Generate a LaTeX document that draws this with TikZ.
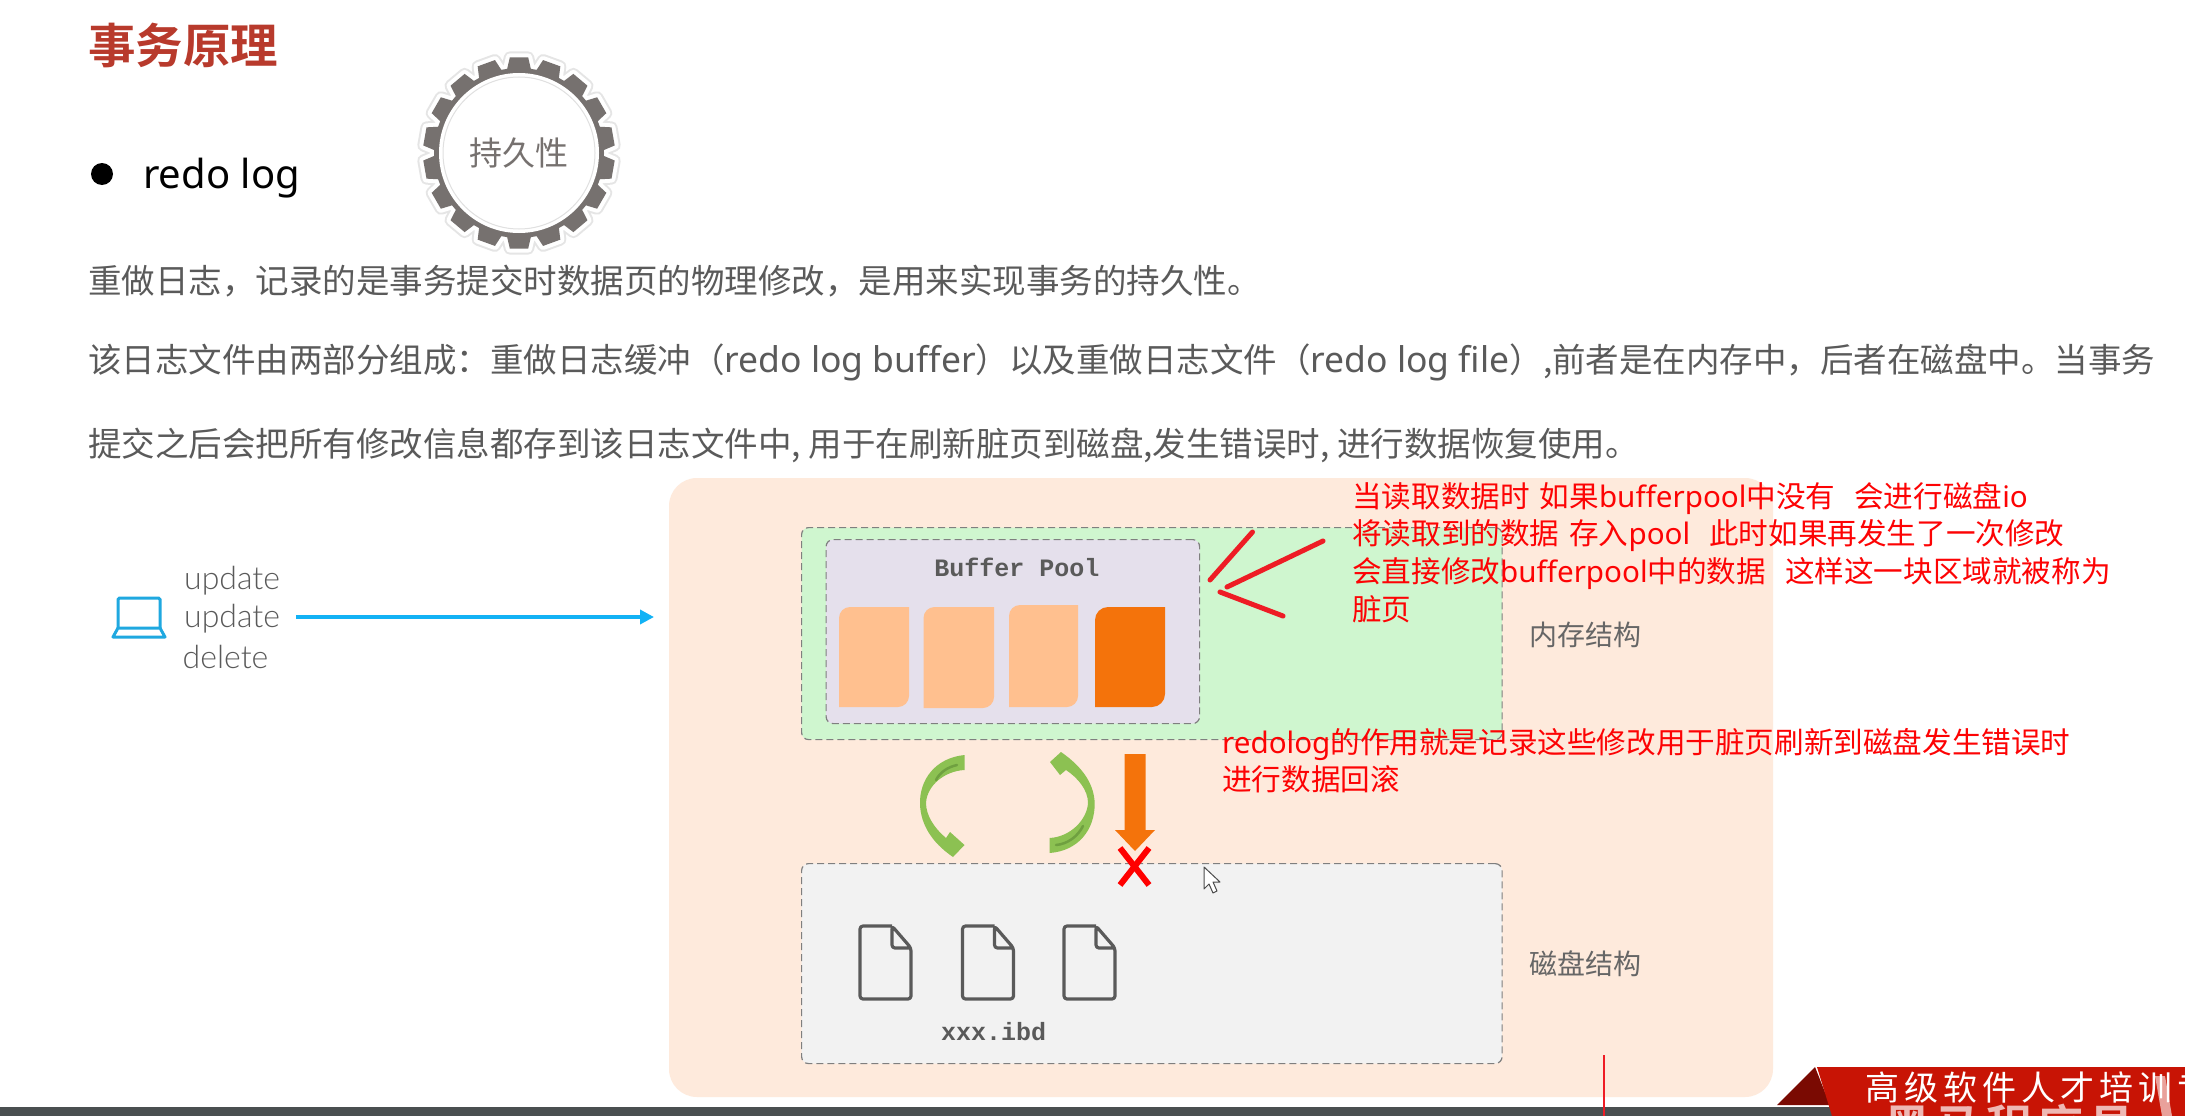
\documentclass[tikz,border=0pt]{standalone}
\usepackage{fontspec}
\usetikzlibrary{arrows.meta}
\setmainfont{Noto Sans CJK SC}
\newfontfamily\cjkbold{Noto Sans CJK SC Bold}
\newfontfamily\monob{Liberation Mono Bold}
\newfontfamily\latin{Lato Light}
\newfontfamily\redolat{Noto Sans}
\newcommand{\lat}[1]{{\redolat #1}}
\newcommand{\latwide}[1]{{\redolat\fontsize{35.5}{35.5}\selectfont #1}}
\definecolor{titlered}{HTML}{B83A2C}
\definecolor{bodygray}{HTML}{5A5A5A}
\definecolor{peach}{HTML}{FEEADC}
\definecolor{memgreen}{HTML}{CFF6CF}
\definecolor{poolpurple}{HTML}{E5E0EC}
\definecolor{pagepeach}{HTML}{FFC08F}
\definecolor{pageorange}{HTML}{F4730B}
\definecolor{diskgray}{HTML}{F2F2F2}
\definecolor{dashgray}{HTML}{7F7F7F}
\definecolor{inkred}{HTML}{EE1C25}
\definecolor{arrowgreen}{HTML}{8CC152}
\definecolor{arrowdark}{HTML}{6FA040}
\definecolor{gearg}{HTML}{76716F}
\definecolor{skyblue}{HTML}{12B2F5}
\definecolor{laptopblue}{HTML}{1FA8E0}
\definecolor{barc}{HTML}{4A4F50}
\definecolor{banner}{HTML}{C81405}
\definecolor{bannerdark}{HTML}{7A0A02}
\tikzset{
 bodytext/.style={anchor=west,inner sep=0pt,text height=27pt,text depth=7pt,text=bodygray,font=\fontsize{33.5}{33.5}\selectfont},
 redtext/.style={anchor=west,inner sep=0pt,text height=23pt,text depth=6pt,text=red!90!inkred,font=\fontsize{29.6}{29.6}\selectfont},
 sidelabel/.style={anchor=west,inner sep=0pt,text=black!60,font=\fontsize{28}{28}\selectfont},
 opword/.style={anchor=west,inner sep=0pt,text=bodygray,font=\latin\fontsize{32}{32}\selectfont},
 dashbox/.style={draw=dashgray,dashed,dash pattern=on 7pt off 4pt,line width=1.2pt,rounded corners=7pt},
 inkstroke/.style={draw=inkred,line width=5pt,line cap=round},
 filestroke/.style={draw=bodygray,line width=3.2pt,rounded corners=3pt,line join=round},
}
\newcommand{\pageshape}[6]{\fill[#5] (#1,#4) -- (#1,#2+#6) .. controls (#1,#2+0.45*#6) and (#1+0.45*#6,#2) .. (#1+#6,#2) -- (#3,#2) -- (#3,#4-#6) .. controls (#3,#4-0.45*#6) and (#3-0.45*#6,#4) .. (#3-#6,#4) -- cycle;}
\newcommand{\fileicon}[2]{%
 \draw[filestroke] (#1+32,#2) -- (#1,#2) -- (#1,#2+73) -- (#1+51,#2+73) -- (#1+51,#2+22) -- (#1+32,#2) -- (#1+32,#2+22) -- (#1+51,#2+22);}
\begin{document}
\begin{tikzpicture}[x=1pt,y=-1pt]
\useasboundingbox (0,0) rectangle (2185,1116);
\fill[white] (0,0) rectangle (2185,1116);
% heading
\node[anchor=west,inner sep=0pt,text=titlered,font=\cjkbold\fontsize{47.5}{47.5}\selectfont] (title) at (88,45) {事务原理};
\fill[black] (102,174) ellipse (11 and 11);
\node[anchor=west,inner sep=0pt,text=black,font=\redolat\fontsize{40}{40}\selectfont] (redo) at (143,178) {redo log};
% gear
\begin{scope}[shift={(519,153)}]
 \def\gearpath{(0:85)
  \foreach \a in {0,20,...,340}{ -- ({\a+2}:85) -- ({\a+4.5}:96) -- ({\a+15.5}:96) -- ({\a+18}:85)} -- cycle}
 \draw[draw=black!10,line width=12pt,line join=round] \gearpath;
 \draw[draw=white,line width=8pt,line join=round] \gearpath;
 \fill[gearg] \gearpath;
 \fill[white] (0,0) circle (80);
 \draw[black!12,line width=1pt] (0,0) circle (76);
\end{scope}
\node[inner sep=0pt,text=gearg,font=\fontsize{33}{33}\selectfont] (durable) at (519,153) {持久性};
% body text
\node[bodytext] (l1) at (88,283) {重做日志，记录的是事务提交时数据页的物理修改，是用来实现事务的持久性。};
\node[bodytext] (l2) at (88,362) {该日志文件由两部分组成：重做日志缓冲（\latwide{redo log buffer}）以及重做日志文件（\latwide{redo log file}）,前者是在内存中，后者在磁盘中。当事务};
\node[bodytext] (l3) at (88,446) {提交之后会把所有修改信息都存到该日志文件中, 用于在刷新脏页到磁盘,发生错误时, 进行数据恢复使用。};
% panels
\fill[peach,rounded corners=28pt] (669,478) rectangle (1773,1097);
\node[dashbox,fill=memgreen,minimum width=700.5pt,minimum height=212pt,anchor=north west,inner sep=0pt] (mem) at (801,527) {};
\node[dashbox,fill=poolpurple,minimum width=373.5pt,minimum height=184pt,anchor=north west,inner sep=0pt] (pool) at (825.5,539) {};
\node[dashbox,fill=diskgray,minimum width=700.5pt,minimum height=200pt,anchor=north west,inner sep=0pt] (disk) at (801,863) {};
\node[inner sep=0pt,text=bodygray,font=\monob\fontsize{25}{25}\selectfont] (pooltitle) at (1017,567) {Buffer Pool};
\pageshape{839}{607}{909}{707}{pagepeach}{11}
\pageshape{923.5}{607}{994}{708}{pagepeach}{11}
\pageshape{1009}{605}{1078}{707}{pagepeach}{11}
\pageshape{1095}{607}{1165}{707}{pageorange}{13}
\node[sidelabel] (memlabel) at (1529,635) {内存结构};
\node[sidelabel] (disklabel) at (1529,964) {磁盘结构};
% files
\fileicon{860}{926}
\fileicon{962.5}{926}
\fileicon{1064}{926}
\node[inner sep=0pt,text=bodygray,font=\monob\fontsize{25}{25}\selectfont] (ibd) at (993.7,1032) {xxx.ibd};
% green arrows
\fill[arrowgreen] (964.5,755) .. controls (935,758) and (919,780) .. (920,805) .. controls (921,824) and (931,842) .. (953,857) -- (964.5,845) -- (950,832) -- (946,838) .. controls (934,828) and (926,815) .. (926,803) .. controls (927,785) and (945,771) .. (964.5,770) -- cycle;
\draw[arrowdark,line width=2.5pt,line cap=round] (957,765) .. controls (948,767) and (940,772) .. (936,780);
\fill[arrowgreen] (1049.5,853) .. controls (1078,851) and (1095,830) .. (1094.7,803) .. controls (1094,785) and (1084,768) .. (1061,752) -- (1050,762) -- (1060,775) -- (1066,770) .. controls (1078,778) and (1088,790) .. (1088,803) .. controls (1087,820) and (1070,837) .. (1049.5,838) -- cycle;
\draw[arrowdark,line width=2.5pt,line cap=round] (1056,845) .. controls (1068,844) and (1078,836) .. (1083,826);
% orange arrow
\fill[pageorange] (1124.5,754) -- (1145.6,754) -- (1145.6,830) -- (1155,830) -- (1135,851) -- (1115,830) -- (1124.5,830) -- cycle;
% red cross
\draw[red,line width=6pt] (1120,848) -- (1149,885);
\draw[red,line width=6pt] (1149,848) -- (1120,885);
% cursor
\draw[black!70,fill=white,line width=1pt,line join=round] (1204,867) -- (1204,889) -- (1209,884) -- (1213,893) -- (1217,891) -- (1213,882) -- (1220,882) -- cycle;
% ink strokes
\draw[inkstroke] (1252.5,532) -- (1210,580);
\draw[inkstroke] (1323,541) -- (1227,587);
\draw[inkstroke] (1220,592) -- (1283,616);
\node[redtext] (n1) at (1352,499) {当读取数据时\hspace{10pt}如果\lat{bufferpool}中没有\hspace{19pt}会进行磁盘\lat{io}};
\node[redtext] (n2) at (1352,536) {将读取到的数据\hspace{10pt}存入\lat{pool}\hspace{19pt}此时如果再发生了一次修改};
\node[redtext] (n3) at (1352,574) {会直接修改\lat{bufferpool}中的数据\hspace{19pt}这样这一块区域就被称为};
\node[redtext] (n4) at (1352,612) {脏页};
\node[redtext] (n5) at (1222,745) {\lat{redolog}的作用就是记录这些修改用于脏页刷新到磁盘发生错误时};
\node[redtext] (n6) at (1222,782) {进行数据回滚};
% client
\draw[laptopblue,line width=3pt,rounded corners=1.5pt] (118,628) -- (118,598) -- (160,598) -- (160,628);
\draw[laptopblue,line width=3pt,line join=round] (118,628) -- (160,628) -- (165,637) -- (113,637) -- cycle;
\coordinate (client) at (296,617);
\coordinate (panelin) at (654,617);
\draw[skyblue,line width=3.5pt,-{Triangle[length=14pt,width=14pt]}] (client) -- (panelin);
\node[opword] (op1) at (184,581) {update};
\node[opword] (op2) at (184,619) {update};
\node[opword] (op3) at (182.5,657) {delete};
% bottom
\fill[barc] (0,1107) rectangle (2185,1116);
\fill[bannerdark] (1815,1067) -- (1777,1105) -- (1830,1105) -- cycle;
\fill[banner] (1817,1067) -- (2185,1067) -- (2185,1116) -- (1832,1116) -- cycle;
\draw[inkred,line width=2pt] (1604,1055) -- (1604,1116);
\begin{scope}
 \clip (0,0) rectangle (2185,1116);
 \node[anchor=west,inner sep=0pt,text=white,font=\fontsize{34}{34}\selectfont] (slogan) at (1865,1088) {高\hspace{5pt}级\hspace{5pt}软\hspace{5pt}件\hspace{5pt}人\hspace{5pt}才\hspace{5pt}培\hspace{5pt}训\hspace{5pt}专};
 \node[anchor=west,inner sep=0pt,text=white,opacity=.7,font=\cjkbold\fontsize{46}{46}\selectfont] (mark) at (1884,1126) {黑\hspace{5pt}马\hspace{5pt}程\hspace{5pt}序\hspace{5pt}员};
 \fill[white,opacity=.6] (2155,1076) -- (2165,1076) -- (2172,1116) -- (2162,1116) -- cycle;
\end{scope}
\end{tikzpicture}
\end{document}
